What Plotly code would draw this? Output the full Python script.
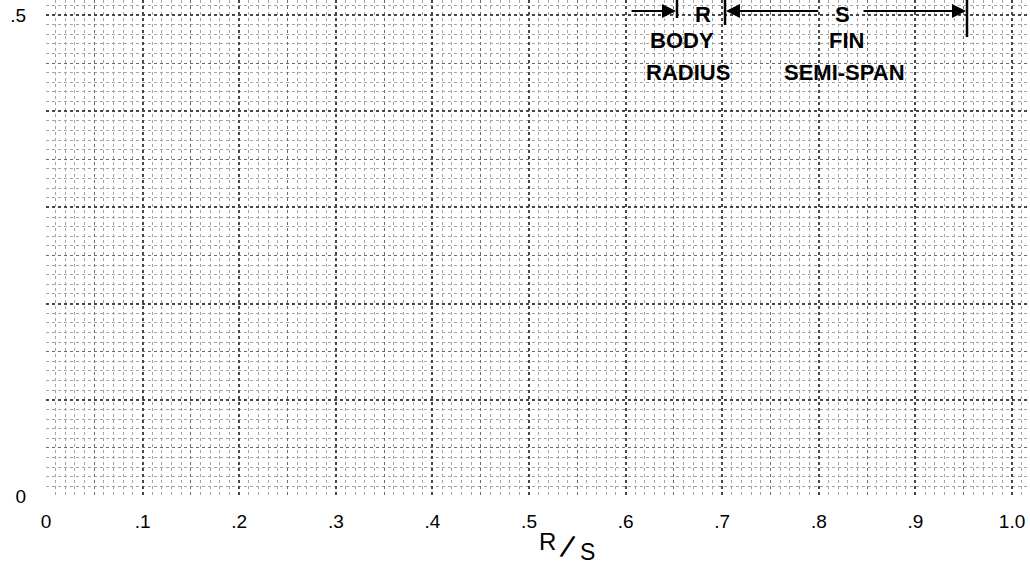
import plotly.graph_objects as go

# ---- data (axis ticks / labels) ----
x_tick_vals = [0, 0.1, 0.2, 0.3, 0.4, 0.5, 0.6, 0.7, 0.8, 0.9, 1.0]
x_tick_text = ["0", ".1", ".2", ".3", ".4", ".5", ".6", ".7", ".8", ".9", "1.0"]
x_half_vals = [0.05, 0.15, 0.25, 0.35, 0.45, 0.55, 0.65, 0.75, 0.85, 0.95]
y_tick_vals = [0, 0.5]
y_tick_text = ["0", ".5"]
y_major_vals = [0, 0.1, 0.2, 0.3, 0.4, 0.5]
y_half_vals = [0.05, 0.15, 0.25, 0.35, 0.45]

X_RANGE = [0, 1.0186]
Y_RANGE = [0, 0.5156]
FONT = "Liberation Sans, Arial, sans-serif"

fig = go.Figure()
fig.add_trace(go.Scatter(x=[], y=[], xaxis="x", yaxis="y", showlegend=False))
for ya_name in ["y2", "y3"]:
    fig.add_trace(go.Scatter(x=[0.5], y=[0.25], xaxis="x2", yaxis=ya_name, mode="markers",
                             marker=dict(opacity=0), showlegend=False, hoverinfo="skip"))

heavy = dict(gridcolor="#474747", gridwidth=1.8, griddash="dot")
minor = dict(dtick=0.01, tick0=0, showgrid=True, gridcolor="#a5a5a5", gridwidth=1, griddash="dot", ticks="")
medium = dict(showticklabels=False, showgrid=True, gridcolor="#6a6a6a", gridwidth=1.4, griddash="dot",
              zeroline=False, tickmode="array")

fig.update_layout(
    width=1030, height=568,
    margin=dict(l=46, r=0, t=0, b=72),
    paper_bgcolor="white", plot_bgcolor="white",
    font=dict(family=FONT, size=19, color="black"),
    xaxis=dict(range=X_RANGE, tickmode="array", tickvals=x_tick_vals, ticktext=x_tick_text,
               showgrid=True, zeroline=False, showline=False, ticks="outside", ticklen=8,
               tickcolor="rgba(0,0,0,0)", tickfont=dict(size=19), minor=minor, **heavy),
    yaxis=dict(range=Y_RANGE, tickmode="array", tickvals=y_tick_vals, ticktext=y_tick_text,
               showgrid=True, zeroline=False, showline=False, ticks="outside", ticklen=15,
               tickcolor="rgba(0,0,0,0)", tickfont=dict(size=19), minor=minor, **heavy),
    xaxis2=dict(overlaying="x", matches="x", range=X_RANGE, tickvals=x_half_vals, anchor="y2", **medium),
    yaxis2=dict(overlaying="y", matches="y", range=Y_RANGE, tickvals=y_half_vals, anchor="x2", **medium),
    yaxis3=dict(overlaying="y", matches="y", range=Y_RANGE, tickvals=y_major_vals, anchor="x2",
                showticklabels=False, showgrid=True, zeroline=False, tickmode="array", **heavy),
)

# axis title R/S (R raised, slanted stroke, S lowered)
title_parts = [(0.510, -0.091, "R", 24, 0), (0.530, -0.103, "/", 32, 18), (0.550, -0.113, "S", 23, 0)]
for tx, ty, t, sz, ang in title_parts:
    fig.add_annotation(x=tx, y=ty, xref="paper", yref="paper", showarrow=False,
                       xanchor="center", yanchor="middle", text=t, textangle=ang, borderpad=0,
                       font=dict(size=sz, family=FONT))

# diagram: body radius / fin semi-span
ya = 0.5042
bars = [(0.6532, 0.4969), (0.7029, 0.4896), (0.9534, 0.4771)]
for bx, by in bars:
    fig.add_shape(type="line", x0=bx, x1=bx, y0=by, y1=Y_RANGE[1], xref="x", yref="y",
                  line=dict(color="black", width=2.5))
for head, tail in [(0.6532, 0.6046), (0.7029, 0.801), (0.9534, 0.8447)]:
    fig.add_annotation(x=head, y=ya, ax=tail, ay=ya, xref="x", yref="y", axref="x", ayref="y",
                       text="", showarrow=True, arrowhead=2, arrowsize=1.4, arrowwidth=2,
                       arrowcolor="black", standoff=1)
labels = [(0.680, 0.5010, "R"), (0.825, 0.5010, "S"),
          (0.6579, 0.4735, "BODY"), (0.6646, 0.4407, "RADIUS"),
          (0.829, 0.4735, "FIN"), (0.827, 0.4407, "SEMI-SPAN")]
for lx, ly, t in labels:
    fig.add_annotation(x=lx, y=ly, xref="x", yref="y", text=f"<b>{t}</b>", showarrow=False,
                       xanchor="center", yanchor="middle",
                       font=dict(size=22, family=FONT, color="black"))

fig.write_html("out.html", config={"displayModeBar": False},
               post_script="document.body.style.margin='0';")
